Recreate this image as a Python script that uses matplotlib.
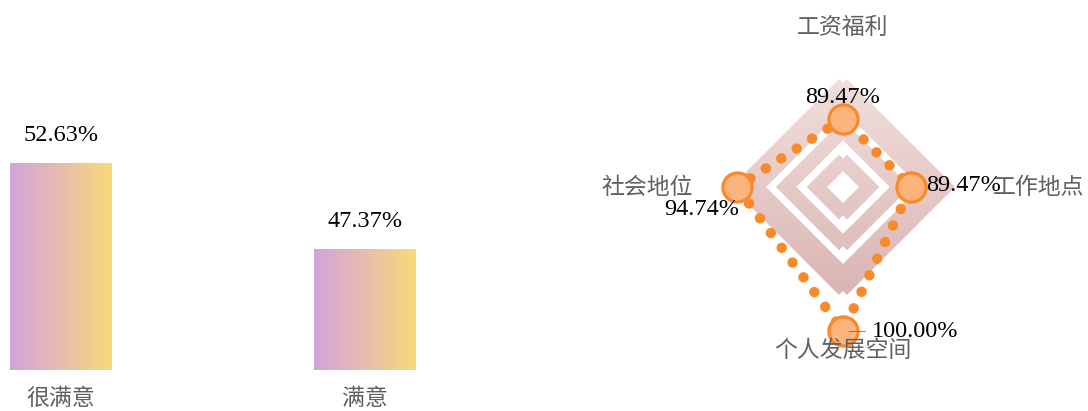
import numpy as np
import matplotlib
matplotlib.use("Agg")
import matplotlib.pyplot as plt
from matplotlib.path import Path
from matplotlib.colors import LinearSegmentedColormap

# ----------------------------------------------------------------------------------------------------------------------
#  DATA
# ----------------------------------------------------------------------------------------------------------------------
bar_categories = ['很满意', '满意']
bar_values     = [52.63, 47.37]

radar_names    = ['工资福利', '社会地位', '个人发展空间', '工作地点']
radar_values   = [89.47, 94.74, 100.00, 89.47]
radar_min      = 80
radar_max      = 95

# ----------------------------------------------------------------------------------------------------------------------
#  STYLE
# ----------------------------------------------------------------------------------------------------------------------
W, H   = 1088, 411
num_fn = 'Liberation Serif'
cjk_fn = ['Noto Sans CJK SC', 'DejaVu Sans']
gray   = '#606060'
orange = '#f98a2c'

fig = plt.figure(figsize=(W / 100, H / 100), dpi=100)

def px_axes(left, top, width, height):
    # axes placed with pixel box (top measured from top edge)
    return fig.add_axes([left / W, (H - top - height) / H, width / W, height / H])

# ----------------------------------------------------------------------------------------------------------------------
#  BAR CHART
# ----------------------------------------------------------------------------------------------------------------------
ax1 = px_axes(0, 60, 480, 310)
band_px = 304.0
x0 = -61 / band_px
ax1.axis('off')

bar_w = 102 / band_px
bar_cmap = LinearSegmentedColormap.from_list('bar', ['#d4a3da', '#e6bcae', '#f8db78'])
grad = np.linspace(0, 1, 256).reshape(1, -1)
for i, (cat, val) in enumerate(zip(bar_categories, bar_values)):
    ax1.imshow(grad, cmap=bar_cmap, aspect='auto', interpolation='bicubic',
               extent=(i - bar_w / 2, i + bar_w / 2, 40, val), zorder=2)
    ax1.annotate('%.2f%%' % val, (i, val), xytext=(0, 20.5), textcoords='offset points',
                 ha='center', va='center', fontsize=17.5, family=num_fn, color='black',
                 annotation_clip=False)
    ax1.annotate(cat, (i, 40), xytext=(0, -20.5), textcoords='offset points',
                 ha='center', va='center', fontsize=16.5, family=cjk_fn, color=gray,
                 annotation_clip=False)
ax1.set_xlim(x0, x0 + 480 / band_px)
ax1.set_ylim(40, 40 + 310 / 16.35)

# ----------------------------------------------------------------------------------------------------------------------
#  RADAR CHART
# ----------------------------------------------------------------------------------------------------------------------
cx, cy = 843, 187
ax2 = px_axes(580, 0, 508, 411)
ax2.set_xlim(580 - cx, 1088 - cx)
ax2.set_ylim(cy - 411, cy)
ax2.axis('off')

R = 108.0
angles = np.deg2rad([90, 180, 270, 0])

def diamond(r, dx=0.0, reverse=False):
    pts = [(dx, r), (dx - r, 0), (dx, -r), (dx + r, 0), (dx, r)]
    if reverse:
        pts = pts[::-1]
    return Path(pts, [Path.MOVETO, Path.LINETO, Path.LINETO, Path.LINETO, Path.CLOSEPOLY])

# split area bands (fractions of radius), drawn twice with a small horizontal shift
bands = [(0.185, 0.30), (0.47, 0.585), (0.75, 1.0)]
ring_cmap = LinearSegmentedColormap.from_list('ring', ['#d9b4b3', '#e6cac8', '#f1e0de'])
vgrad = np.linspace(0, 1, 256).reshape(-1, 1)
for dx in (-4.0, 4.0):
    paths = []
    for b0, b1 in bands:
        paths.append(diamond(R * b1, dx))
        paths.append(diamond(R * b0, dx, reverse=True))
    clip = Path.make_compound_path(*paths)
    im = ax2.imshow(vgrad, cmap=ring_cmap, origin='lower', aspect='auto', interpolation='bicubic',
                    extent=(-R - 10, R + 10, -R - 4, R + 4), zorder=1)
    im.set_clip_path(clip, transform=ax2.transData)

rad = [(v - radar_min) / (radar_max - radar_min) * R for v in radar_values]
xs = [r * np.cos(a) for r, a in zip(rad, angles)]
ys = [r * np.sin(a) for r, a in zip(rad, angles)]

ax2.plot(xs + xs[:1], ys + ys[:1], color=orange, lw=7.5, ls=(0, (0.01, 1.75)),
         dash_capstyle='round', zorder=3)
ax2.plot(xs, ys, ls='none', marker='o', markersize=21, markerfacecolor='#fbb47c',
         markeredgecolor=orange, markeredgewidth=2.3, zorder=4)

# axis names
name_r = [160, 150, 163, 150]
name_ha = ['center', 'right', 'center', 'left']
for name, a, r, ha in zip(radar_names, angles, name_r, name_ha):
    ax2.text(r * np.cos(a), r * np.sin(a), name, ha=ha, va='center', fontsize=16.5,
             family=cjk_fn, color=gray, zorder=5)

# value labels
offsets = [(0, 15), (2, -16), (21, 0), (11, 1)]
val_ha  = ['center', 'right', 'left', 'left']
for x, y, v, off, ha in zip(xs, ys, radar_values, offsets, val_ha):
    ax2.annotate('%.2f%%' % v, (x, y), xytext=off, textcoords='offset points',
                 ha=ha, va='center', fontsize=17.5, family=num_fn, color='black', zorder=6)
ax2.annotate('—', (xs[2], ys[2]), xytext=(10, 0), textcoords='offset points',
             ha='center', va='center', fontsize=12, family=num_fn, color=gray, zorder=6)

fig.savefig('out.png', dpi=100)
